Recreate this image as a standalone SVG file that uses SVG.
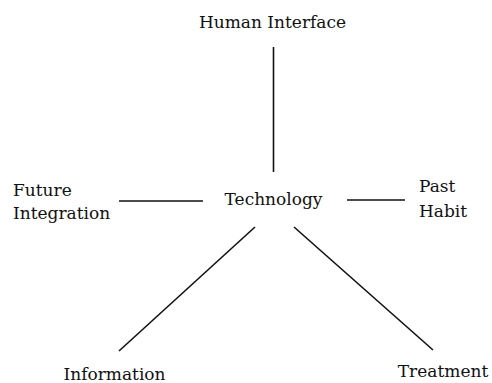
<svg xmlns="http://www.w3.org/2000/svg" width="492" height="383" viewBox="0 0 492 383">
<style>
text{font-family:"DejaVu Serif","Liberation Serif",serif;font-size:17px;fill:#111}
.c{text-anchor:middle}
line{stroke:#111;stroke-width:1.6;stroke-linecap:butt}
</style>
<rect width="492" height="383" fill="#fff"/>
<g id="connectors">
<line x1="273.5" y1="47" x2="273.5" y2="172"/>
<line x1="119" y1="201" x2="203" y2="201"/>
<line x1="347" y1="200" x2="405" y2="200"/>
<line x1="255" y1="227" x2="119" y2="351"/>
<line x1="294" y1="227" x2="433" y2="350"/>
</g>
<g id="human-interface"><text class="c" x="272.5" y="28">Human Interface</text></g>
<g id="technology"><text class="c" x="273.5" y="205">Technology</text></g>
<g id="future-integration"><text x="13" y="196">Future</text><text x="13" y="219">Integration</text></g>
<g id="past-habit"><text x="419" y="192">Past</text><text x="419" y="217">Habit</text></g>
<g id="information"><text class="c" x="114.5" y="380">Information</text></g>
<g id="treatment"><text class="c" x="443" y="377">Treatment</text></g>
</svg>
